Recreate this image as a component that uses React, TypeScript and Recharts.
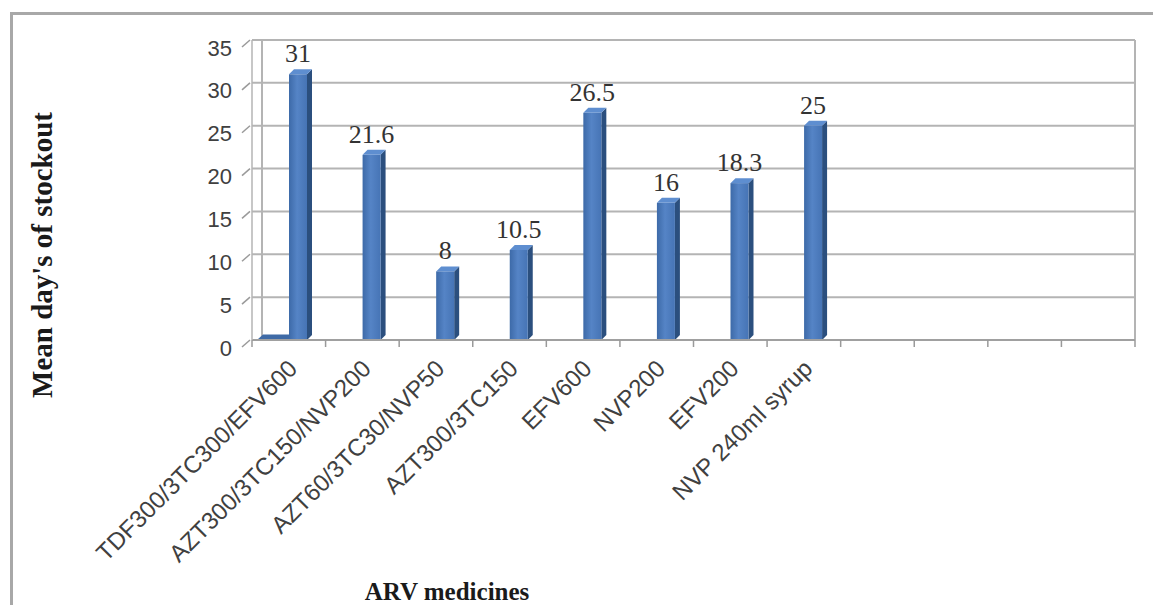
import { BarChart, Bar, XAxis, YAxis, CartesianGrid, LabelList } from 'recharts'

const categories = [
  'TDF300/3TC300/EFV600',
  'AZT300/3TC150/NVP200',
  'AZT60/3TC30/NVP50',
  'AZT300/3TC150',
  'EFV600',
  'NVP200',
  'EFV200',
  'NVP 240ml syrup',
  '',
  '',
  '',
  '',
]
// mean days of stockout per medicine
const stockoutDays = [31, 21.6, 8, 10.5, 26.5, 16, 18.3, 25, null, null, null, null]
// the flat sliver drawn at the far left of the floor
const floorSeries = [0.3, null, null, null, null, null, null, null, null, null, null, null]
const yTicks = [0, 5, 10, 15, 20, 25, 30, 35]

const W = 1153
const H = 605
const LEFT = 252
const RIGHT = 1135
const TOP = 40
const BOTTOM = 340
const SLOT = (RIGHT - LEFT) / categories.length

const data = categories.map((name, i) => ({
  key: 'c' + i,
  name,
  floor: floorSeries[i],
  days: stockoutDays[i],
}))

const SANS = '"Liberation Sans", Arial, sans-serif'
const SERIF = '"Liberation Serif", "Times New Roman", serif'

function Column3D(props: any) {
  const { x, y, width, height } = props
  if (!(height > 0.5)) return null
  const d = 5
  return (
    <g>
      <polygon
        points={`${x + width},${y} ${x + width + d},${y - d} ${x + width + d},${y + height - d} ${x + width},${y + height}`}
        fill="#2b4f7e"
      />
      <polygon
        points={`${x},${y} ${x + d},${y - d} ${x + width + d},${y - d} ${x + width},${y}`}
        fill="#5e8ed0"
      />
      <rect x={x} y={y} width={width} height={height} fill="url(#frontGrad)" />
    </g>
  )
}

function FloorSliver(props: any) {
  const { x, y, width, height } = props
  if (!(height > 0.5)) return null
  const w = width + 14
  const x0 = x - 14
  return (
    <g>
      <polygon
        points={`${x0},${y + height} ${x0 + 6},${y - 3} ${x0 + w + 6},${y - 3} ${x0 + w},${y + height}`}
        fill="#3e6aa6"
      />
    </g>
  )
}

function YTick(props: any) {
  const { x, y, payload } = props
  return (
    <g>
      <line x1={LEFT - 10} y1={y + 7} x2={LEFT - 2} y2={y} stroke="#9a9a9a" strokeWidth={1.5} />
      <text
        x={x - 12}
        y={y + 8}
        textAnchor="end"
        dominantBaseline="central"
        fontSize={22}
        fontFamily={SANS}
        fill="#404040"
      >
        {payload.value}
      </text>
    </g>
  )
}

function XTick(props: any) {
  const { x, y, index } = props
  const top = y - 8
  return (
    <g>
      <line x1={x - SLOT / 2} y1={top} x2={x - SLOT / 2} y2={top + 7} stroke="#9a9a9a" strokeWidth={1.5} />
      {index === categories.length - 1 && (
        <line x1={x + SLOT / 2} y1={top} x2={x + SLOT / 2} y2={top + 7} stroke="#9a9a9a" strokeWidth={1.5} />
      )}
      <text
        transform={`translate(${x + 10},${y + 22}) rotate(-45)`}
        textAnchor="end"
        fontSize={24}
        fontFamily={SANS}
        fill="#404040"
      >
        {categories[index]}
      </text>
    </g>
  )
}

export default function App() {
  return (
    <div
      style={{
        position: 'absolute',
        left: 0,
        top: 0,
        width: W,
        height: H,
        overflow: 'hidden',
        background: '#fff',
      }}
    >
      <div
        style={{
          position: 'absolute',
          left: 10,
          top: 12,
          width: W,
          height: H,
          borderTop: '3px solid #a8a8a8',
          borderLeft: '3px solid #a8a8a8',
          boxSizing: 'border-box',
        }}
      />
      <div style={{ position: 'absolute', left: 0, top: 0 }}>
        <BarChart
          width={W}
          height={H}
          data={data}
          margin={{ top: TOP, right: W - RIGHT, bottom: 0, left: 0 }}
          barGap={0}
        >
          <defs>
            <linearGradient id="frontGrad" x1="0" y1="0" x2="1" y2="0">
              <stop offset="0%" stopColor="#3d6aa8" />
              <stop offset="45%" stopColor="#5584c6" />
              <stop offset="100%" stopColor="#4674b5" />
            </linearGradient>
          </defs>
          <CartesianGrid
            stroke="#b4b4b4"
            strokeWidth={2}
            horizontal
            vertical
            verticalCoordinatesGenerator={({ offset }: any) => [offset.left + 10, offset.left + offset.width]}
          />
          <XAxis
            dataKey="key"
            tick={<XTick />}
            tickLine={false}
            axisLine={{ stroke: '#a0a0a0', strokeWidth: 2 }}
            interval={0}
            height={H - BOTTOM}
          />
          <YAxis
            domain={[0, 35]}
            ticks={yTicks}
            tick={<YTick />}
            tickLine={false}
            axisLine={{ stroke: '#b4b4b4', strokeWidth: 1.5 }}
            width={LEFT}
          />
          <Bar dataKey="floor" barSize={18} shape={<FloorSliver />} isAnimationActive={false} />
          <Bar dataKey="days" barSize={18} shape={<Column3D />} isAnimationActive={false}>
            <LabelList
              dataKey="days"
              position="top"
              offset={12}
              fontSize={26}
              fontFamily={SERIF}
              fill="#333"
            />
          </Bar>
        </BarChart>
      </div>
      <div
        style={{
          position: 'absolute',
          left: 42,
          top: 255,
          transform: 'translate(-50%, -50%) rotate(-90deg)',
          whiteSpace: 'nowrap',
          fontFamily: SERIF,
          fontWeight: 'bold',
          fontSize: 29,
          color: '#1a1a1a',
        }}
      >
        Mean day's of stockout
      </div>
      <div
        style={{
          position: 'absolute',
          left: 447,
          top: 592,
          transform: 'translate(-50%, -50%)',
          whiteSpace: 'nowrap',
          fontFamily: SERIF,
          fontWeight: 'bold',
          fontSize: 25,
          color: '#1a1a1a',
        }}
      >
        ARV medicines
      </div>
    </div>
  )
}
